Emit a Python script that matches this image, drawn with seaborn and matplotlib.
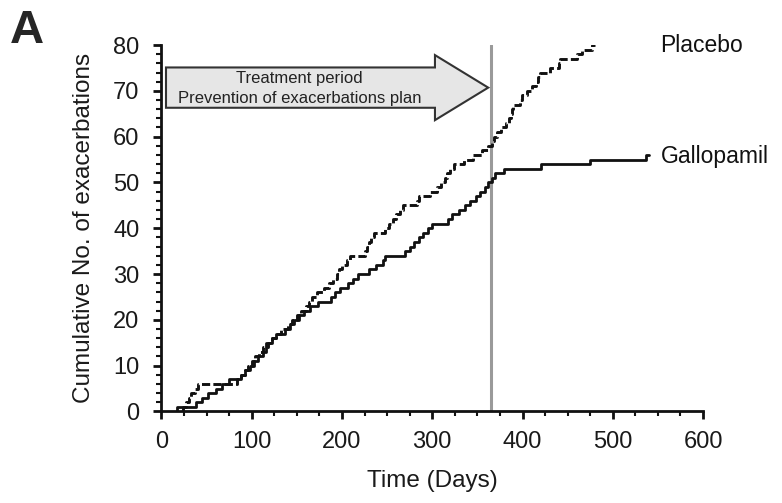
import numpy as np
import pandas as pd
import seaborn as sns
import matplotlib.pyplot as plt
from matplotlib.ticker import MultipleLocator

# step points (day, cumulative count)
gallopamil_days = [17, 17, 38, 45, 52, 60, 67, 75, 88, 92, 98, 103, 107, 112, 116, 122, 127,
                   137, 142, 147, 152, 158, 165, 173, 188, 192, 198, 207, 212, 218, 230, 238,
                   245, 248, 270, 275, 280, 285, 290, 295, 300, 318, 322, 330, 336, 342, 348,
                   353, 358, 362, 366, 370, 379, 421, 475, 537, 540]
gallopamil_counts = [0, 1, 2, 3, 4, 5, 6, 7, 8, 9, 10, 11, 12, 13, 15, 16, 17,
                     18, 19, 20, 21, 22, 23, 24, 25, 26, 27, 28, 29, 30, 31, 32,
                     33, 34, 35, 36, 37, 38, 39, 40, 41, 42, 43, 44, 45, 46, 47,
                     48, 49, 50, 51, 52, 53, 54, 55, 56, 56]

placebo_days = [24, 24, 27, 30, 33, 37, 41, 84, 88, 92, 96, 100, 104, 108, 113, 118, 122,
                127, 132, 140, 145, 150, 155, 160, 163, 167, 172, 180, 186, 190, 194, 197,
                200, 205, 209, 225, 228, 230, 232, 235, 248, 252, 256, 260, 264, 268, 283,
                285, 297, 305, 310, 314, 316, 320, 324, 335, 345, 355, 362, 366, 368, 372,
                376, 382, 385, 387, 388, 390, 397, 399, 405, 410, 415, 417, 419, 431, 440,
                442, 460, 466, 477, 480]
placebo_counts = [0, 1, 2, 3, 4, 5, 6, 7, 8, 9, 10, 11, 12, 13, 14, 15, 16,
                  17, 18, 19, 20, 21, 22, 23, 24, 25, 26, 27, 28, 29, 30, 31,
                  32, 33, 34, 35, 36, 37, 38, 39, 40, 41, 42, 43, 44, 45, 46,
                  47, 48, 49, 50, 51, 52, 53, 54, 55, 56, 57, 58, 59, 60, 61,
                  62, 63, 64, 65, 66, 67, 68, 69, 70, 71, 72, 73, 74, 75, 76,
                  77, 78, 79, 80, 80]

treatment_end = 365
x_ticks = [0, 100, 200, 300, 400, 500, 600]
y_ticks = [0, 10, 20, 30, 40, 50, 60, 70, 80]

sns.set_style("ticks")
plt.rcParams['font.family'] = ['Liberation Sans', 'DejaVu Sans']

fig = plt.figure(figsize=(7.82, 5.03), dpi=100)
ax = fig.add_axes([0.2065, 0.182, 0.6925, 0.7285])

df_g = pd.DataFrame({"day": gallopamil_days, "count": gallopamil_counts})
df_p = pd.DataFrame({"day": placebo_days, "count": placebo_counts})

sns.lineplot(data=df_p, x="day", y="count", ax=ax, sort=False, estimator=None,
             drawstyle="steps-post", color="#111111", lw=2.1, linestyle=(0, (2.8, 1.1)))
sns.lineplot(data=df_g, x="day", y="count", ax=ax, sort=False, estimator=None,
             drawstyle="steps-post", color="#111111", lw=2.0)

ax.axvline(treatment_end, color="#9a9a9a", lw=2.2, zorder=1)

# treatment period arrow
ax.arrow(5, 70.7, treatment_end - 3 - 5, 0, width=8.8, head_width=14.2, head_length=59,
         length_includes_head=True, fc="#e6e6e6", ec="#333333", lw=1.5, zorder=3)
ax.text(153, 72.6, "Treatment period", ha="center", va="center", fontsize=12,
        color="#222222", zorder=4)
ax.text(153, 68.4, "Prevention of exacerbations plan", ha="center", va="center",
        fontsize=12, color="#222222", zorder=4)

ax.text(553, 80, "Placebo", ha="left", va="center", fontsize=16.5, clip_on=False,
        color="#111111")
ax.text(553, 55.6, "Gallopamil", ha="left", va="center", fontsize=16.5, clip_on=False,
        color="#111111")

ax.set_xlim(0, 600)
ax.set_ylim(0, 80)
ax.set_xticks(x_ticks)
ax.set_yticks(y_ticks)
ax.xaxis.set_minor_locator(MultipleLocator(25))
ax.yaxis.set_minor_locator(MultipleLocator(2))
ax.tick_params(axis="both", which="major", direction="out", length=6, width=2,
               labelsize=17, color="#111111", labelcolor="#1a1a1a", pad=6)
ax.tick_params(axis="y", which="major", pad=10)
ax.tick_params(axis="x", which="major", pad=8)
ax.tick_params(axis="both", which="minor", direction="out", length=3.5, width=1.5,
               color="#111111")
for s in ["top", "right"]:
    ax.spines[s].set_visible(False)
for s in ["left", "bottom"]:
    ax.spines[s].set_linewidth(2)
    ax.spines[s].set_color("#111111")

ax.set_xlabel("Time (Days)", fontsize=17.5, labelpad=12, color="#1a1a1a")
ax.set_ylabel("Cumulative No. of exacerbations", fontsize=17.5, labelpad=13,
              color="#1a1a1a")

fig.text(10 / 782, 1 - 43 / 503, "A", fontsize=34, fontweight="bold", ha="left",
         va="baseline")

fig.savefig("out.png", dpi=100)
